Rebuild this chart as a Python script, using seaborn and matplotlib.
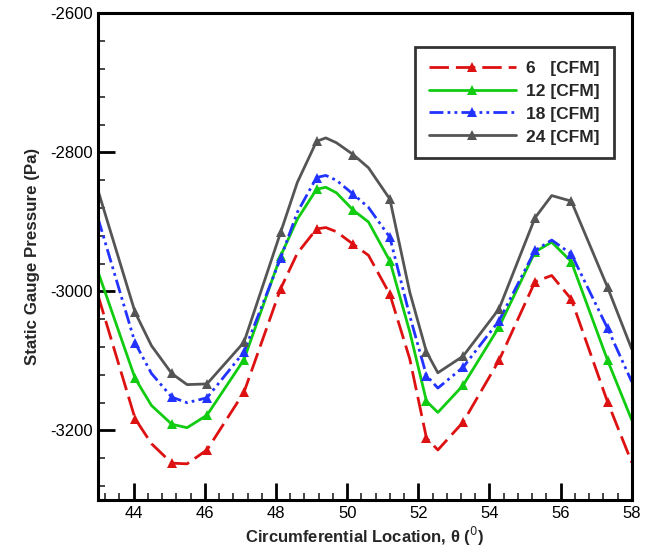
import matplotlib
matplotlib.use("Agg")
import matplotlib.pyplot as plt
from matplotlib.lines import Line2D
from matplotlib.ticker import MultipleLocator
import seaborn as sns
import pandas as pd

# ---- data ----
theta = [43.0, 44.04, 44.5, 45.07, 45.5, 46.06, 47.1, 48.13, 48.6, 49.14, 49.4, 49.7,
         50.17, 50.6, 51.2, 51.76, 52.23, 52.55, 53.26, 54.27, 55.28, 55.75, 56.3,
         57.32, 58.0]
marker_theta = [44.04, 45.07, 46.06, 47.1, 48.13, 49.14, 50.17, 51.2, 52.23,
                53.26, 54.27, 55.28, 56.3, 57.32]

p6 = [-3006, -3183, -3219, -3247, -3248, -3228, -3145, -2996, -2945, -2910, -2908,
      -2914, -2932, -2948, -3004, -3097, -3211, -3228, -3188, -3099, -2986, -2977,
      -3011, -3159, -3246]
p12 = [-2972, -3125, -3164, -3191, -3196, -3178, -3098, -2949, -2896, -2853, -2850,
       -2858, -2883, -2900, -2956, -3058, -3158, -3174, -3135, -3051, -2943, -2929,
       -2957, -3099, -3185]
p18 = [-2895, -3074, -3118, -3152, -3160, -3153, -3087, -2952, -2886, -2836, -2833,
       -2840, -2860, -2879, -2922, -3035, -3121, -3139, -3109, -3042, -2941, -2926,
       -2946, -3053, -3130]
p24 = [-2855, -3030, -3078, -3118, -3134, -3133, -3073, -2915, -2843, -2784, -2779,
       -2786, -2803, -2822, -2867, -3001, -3087, -3117, -3093, -3025, -2894, -2862,
       -2870, -2994, -3083]

labels = ["6   [CFM]", "12 [CFM]", "18 [CFM]", "24 [CFM]"]
series = [p6, p12, p18, p24]
colors = ["#dd1111", "#11cc11", "#2233ff", "#555555"]
dashes = [(7, 2.5), None, (5, 1.5, 1, 1.5, 1, 1.5), None]

xticks = [44, 46, 48, 50, 52, 54, 56, 58]
yticks = [-3200, -3000, -2800, -2600]

# ---- plot ----
sns.set_style("white")
plt.rcParams["font.family"] = ["Liberation Sans", "DejaVu Sans"]
plt.rcParams["mathtext.fontset"] = "dejavusans"
plt.rcParams["axes.unicode_minus"] = False

fig = plt.figure(figsize=(6.54, 5.51), dpi=100)
ax = fig.add_axes([0.150, 0.0926, 0.816, 0.8829])

mark_idx = [theta.index(m) for m in marker_theta]
handles = []
for lab, vals, col, ds in zip(labels, series, colors, dashes):
    df = pd.DataFrame({"theta": theta, "p": vals})
    kw = dict(color=col, linewidth=2.0, marker="^", markersize=7,
              markeredgewidth=0, markevery=mark_idx)
    sns.lineplot(data=df, x="theta", y="p", ax=ax, sort=False,
                 legend=False, **kw)
    ln = ax.lines[-1]
    if ds is not None:
        ln.set_dashes(ds)
    h = Line2D([0, 0.5, 1], [0, 0, 0], color=col, linewidth=2.0, marker="^",
               markersize=7, markeredgewidth=0, markevery=[1])
    if ds is not None:
        h.set_dashes(ds)
    handles.append(h)

ax.set_xlim(43, 58)
ax.set_ylim(-3300, -2600)
ax.set_xticks(xticks)
ax.set_yticks(yticks)
ax.xaxis.set_minor_locator(MultipleLocator(0.4))
ax.yaxis.set_minor_locator(MultipleLocator(40))
ax.tick_params(axis="both", which="major", direction="in", length=12, width=2,
               labelsize=12, bottom=True, left=True, top=False, right=False,
               pad=4, colors="black")
ax.tick_params(axis="both", which="minor", direction="in", length=5, width=1.2,
               bottom=True, left=True, top=False, right=False)
ax.tick_params(axis="x", which="major", pad=4)
for s in ax.spines.values():
    s.set_linewidth(2.2)
    s.set_color("black")

ax.set_xlabel("Circumferential Location, θ ($^{0}$)", fontsize=12,
              fontweight="bold", labelpad=3)
ax.set_ylabel("Static Gauge Pressure (Pa)", fontsize=12.2, fontweight="bold",
              labelpad=7)

leg = ax.legend(handles=handles, labels=labels, loc="upper left",
                bbox_to_anchor=(0.594, 0.932), borderaxespad=0,
                handlelength=5.0, handletextpad=0.6, fancybox=False,
                frameon=True, prop={"weight": "bold", "size": 12.5},
                borderpad=0.8, labelspacing=0.45)
leg.get_frame().set_edgecolor("black")
leg.get_frame().set_linewidth(2.0)

fig.savefig("out.png", dpi=100)
